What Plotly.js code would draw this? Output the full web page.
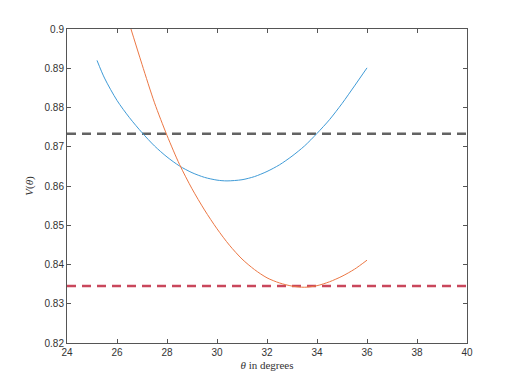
<!DOCTYPE html>
<html>
<head>
<meta charset="utf-8">
<script src="https://cdn.plot.ly/plotly-3.0.1.min.js"></script>
<style>
  body { margin: 0; background: #fff; }
  #plot { width: 515px; height: 386px; }
</style>
</head>
<body>
<div id="plot"></div>
<script>
// blue curve
var thetaA = [25.2, 25.5, 26, 26.5, 27, 27.5, 28, 28.5, 29, 29.5, 30, 30.4, 31, 31.5, 32, 32.5, 33, 33.5, 34, 34.5, 35, 35.5, 36];
var valsA = [0.8920, 0.8875, 0.8818, 0.8774, 0.8736, 0.8702, 0.8674, 0.8651, 0.8634, 0.8622, 0.8615, 0.8613, 0.8616, 0.8624, 0.8637, 0.8654, 0.8676, 0.8702, 0.8734, 0.8769, 0.8810, 0.8855, 0.8901];

// orange curve
var thetaB = [26.5, 27, 27.5, 28, 28.5, 29, 29.5, 30, 30.5, 31, 31.5, 32, 32.5, 33, 33.5, 34, 34.5, 35, 35.5, 36];
var valsB = [0.9012, 0.8910, 0.8812, 0.8729, 0.8655, 0.8593, 0.8539, 0.8491, 0.8449, 0.8414, 0.8387, 0.8366, 0.8353, 0.8345, 0.8342, 0.8346, 0.8356, 0.8370, 0.8388, 0.8411];

// horizontal reference levels
var levelGray = 0.8733;
var levelRed = 0.8345;
var xSpan = [24, 40];

var xTicks = [24, 26, 28, 30, 32, 34, 36, 38, 40];
var yTicks = [0.82, 0.83, 0.84, 0.85, 0.86, 0.87, 0.88, 0.89, 0.9];
var yTickText = ["0.82", "0.83", "0.84", "0.85", "0.86", "0.87", "0.88", "0.89", "0.9"];

var traces = [
    {
        x: xSpan, y: [levelGray, levelGray], mode: "lines",
        line: { color: "#636363", width: 2.5, dash: "9px,6px" }
    },
    {
        x: xSpan, y: [levelRed, levelRed], mode: "lines",
        line: { color: "#c9475c", width: 2.5, dash: "9px,6px" }
    },
    {
        x: thetaA, y: valsA, mode: "lines",
        line: { color: "#3f9bd7", width: 1, shape: "spline", smoothing: 0.8 }
    },
    {
        x: thetaB, y: valsB, mode: "lines",
        line: { color: "#ec7744", width: 1, shape: "spline", smoothing: 0.8 }
    }
];

var axisStyle = {
    showgrid: false, zeroline: false,
    showline: true, linecolor: "#555", linewidth: 1, mirror: "ticks",
    ticks: "inside", ticklen: 4, tickcolor: "#555",
    tickfont: { family: "Liberation Sans, Arial, sans-serif", size: 10, color: "#333" }
};

var layout = {
    width: 515, height: 386,
    margin: { l: 67, r: 48, t: 29, b: 43 },
    paper_bgcolor: "#fff", plot_bgcolor: "#fff",
    showlegend: false,
    xaxis: Object.assign({}, axisStyle, {
        range: [24, 40], tickvals: xTicks,
        title: { text: "<i>θ</i> in degrees", standoff: 4,
                 font: { family: "Liberation Serif, DejaVu Serif, serif", size: 11, color: "#333" } }
    }),
    yaxis: Object.assign({}, axisStyle, {
        range: [0.82, 0.9], tickvals: yTicks, ticktext: yTickText,
        title: { text: "<i>V</i>(<i>θ</i>)", standoff: 8,
                 font: { family: "Liberation Serif, DejaVu Serif, serif", size: 11, color: "#333" } }
    })
};

Plotly.newPlot("plot", traces, layout, { staticPlot: true });
</script>
</body>
</html>
